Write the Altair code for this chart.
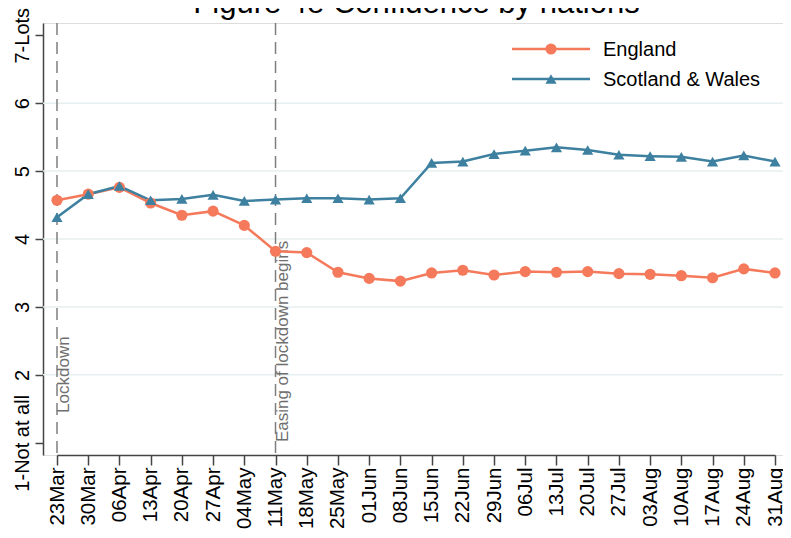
import altair as alt
import pandas as pd

weeks = ["23Mar", "30Mar", "06Apr", "13Apr", "20Apr", "27Apr", "04May", "11May",
         "18May", "25May", "01Jun", "08Jun", "15Jun", "22Jun", "29Jun", "06Jul",
         "13Jul", "20Jul", "27Jul", "03Aug", "10Aug", "17Aug", "24Aug", "31Aug"]
england = [4.57, 4.66, 4.76, 4.53, 4.35, 4.41, 4.20, 3.82, 3.80, 3.51, 3.42, 3.38,
           3.50, 3.54, 3.47, 3.52, 3.51, 3.52, 3.49, 3.48, 3.46, 3.43, 3.56, 3.50]
scotland_wales = [4.32, 4.66, 4.78, 4.57, 4.59, 4.65, 4.56, 4.58, 4.60, 4.60, 4.58, 4.60,
                  5.12, 5.14, 5.25, 5.30, 5.35, 5.31, 5.24, 5.22, 5.21, 5.14, 5.23, 5.14]
series_names = ["England", "Scotland & Wales"]
series_colors = ["#f47a5b", "#3d80a0"]
series_shapes = ["circle", "triangle-up"]
y_ticks = [1, 2, 3, 4, 5, 6, 7]
grid_values = [2, 3, 4, 5, 6]
event_dates = ["23Mar", "11May"]
event_labels = ["Lockdown", "Easing of lockdown begins"]
event_label_y = [1.44, 1.01]
title_text = "Figure 4e Confidence by nations"

FONT = "Liberation Sans"

df = pd.DataFrame({
    "week": weeks * 2,
    "value": england + scotland_wales,
    "series": [series_names[0]] * len(weeks) + [series_names[1]] * len(weeks),
})
events = pd.DataFrame({"week": event_dates, "label": event_labels, "y": event_label_y})
grid = pd.DataFrame({"g": grid_values})

xscale = alt.Scale(type="point", domain=weeks, range=[14, 732], padding=0)
yscale = alt.Scale(domain=[0.82, 7.18], nice=False, zero=False)
cscale = alt.Scale(domain=series_names, range=series_colors)
sscale = alt.Scale(domain=series_names, range=series_shapes)

xaxis = alt.Axis(title=None, labelAngle=270, labelAlign="right", labelBaseline="middle",
                 labelPadding=2, tickSize=10, labelFontSize=20.5, labelFont=FONT,
                 labelColor="#000000", domainColor="#444444", tickColor="#444444",
                 domainWidth=1.5, tickWidth=1.5, grid=False, labelOverlap=False)
yaxis = alt.Axis(title=None, values=y_ticks, format="d", labelAngle=270, labelAlign="center",
                 labelBaseline="alphabetic", labelPadding=7, tickSize=8,
                 labelFontSize=20, labelFont=FONT, labelColor="#000000",
                 domainColor="#444444", tickColor="#444444", domainWidth=1.5,
                 tickWidth=1.5, grid=False,
                 labelExpr="datum.value == 1 ? '1-Not at all' : datum.value == 7 ? '7-Lots' : datum.label")

base = alt.Chart(df)

grid_layer = alt.Chart(grid).mark_rule(color="#e6efef", strokeWidth=1.5).encode(
    y=alt.Y("g:Q", scale=yscale, axis=yaxis)
)

vlines = alt.Chart(events).mark_rule(color="#7f7f7f", strokeWidth=1.5, strokeDash=[12, 7]).encode(
    x=alt.X("week:N", scale=xscale, axis=xaxis, sort=weeks)
)

vtext = alt.Chart(events).mark_text(angle=270, align="left", baseline="alphabetic", dy=12,
                                    fontSize=17, font=FONT, color="#6f6f6f").encode(
    x=alt.X("week:N", scale=xscale, sort=weeks),
    y=alt.Y("y:Q", scale=yscale),
    text="label:N",
)

lines = base.mark_line(strokeWidth=2.5).encode(
    x=alt.X("week:N", scale=xscale, sort=weeks),
    y=alt.Y("value:Q", scale=yscale),
    color=alt.Color("series:N", scale=cscale, legend=None),
    detail="series:N",
)

points = base.mark_point(filled=True, size=125, opacity=1).encode(
    x=alt.X("week:N", scale=xscale, sort=weeks),
    y=alt.Y("value:Q", scale=yscale),
    color=alt.Color("series:N", scale=cscale, legend=None),
    shape=alt.Shape("series:N", scale=sscale, legend=None),
)

legend_layers = []
for i, name in enumerate(series_names):
    ldf = pd.DataFrame({"name": [name]})
    yy = 26 + 30 * i
    lc = alt.Chart(ldf)
    legend_layers.append(lc.mark_rule(color=series_colors[i], strokeWidth=2.5).encode(
        x=alt.value(469), x2=alt.value(547), y=alt.value(yy)))
    legend_layers.append(lc.mark_point(filled=True, size=125, opacity=1,
                                       shape=series_shapes[i], color=series_colors[i]).encode(
        x=alt.value(508), y=alt.value(yy)))
    legend_layers.append(lc.mark_text(align="left", baseline="middle", fontSize=20, font=FONT,
                                      color="#000000").encode(
        x=alt.value(560), y=alt.value(yy + 1), text="name:N"))

title_layer = alt.Chart(pd.DataFrame({"t": [title_text]})).mark_text(
    align="center", baseline="alphabetic", fontSize=31, font=FONT, color="#000000"
).encode(x=alt.value(373.5), y=alt.value(-10), text="t:N")

chart = alt.layer(grid_layer, vlines, vtext, lines, points, *legend_layers, title_layer).properties(
    width=740, height=432,
    autosize=alt.AutoSizeParams(type="none"),
    padding={"left": 35, "top": 15, "right": 0, "bottom": 75},
).configure_view(stroke=None).configure(background="white")

chart.save("out.html", embed_options={"renderer": "svg", "actions": False})
